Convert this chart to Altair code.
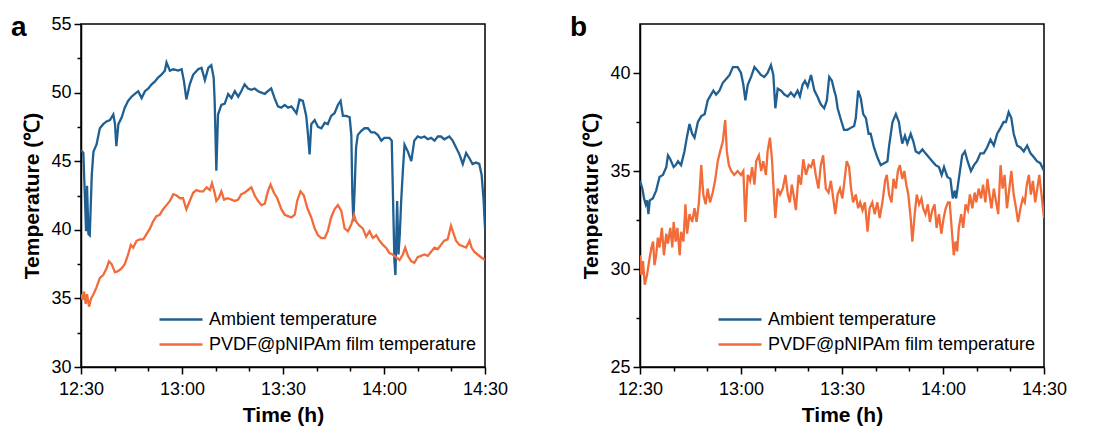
import altair as alt
import pandas as pd

SERIES = ["Ambient temperature", "PVDF@pNIPAm film temperature"]
COLORS = ["#1f5f91", "#f26c3a"]
PANEL_LETTERS = ["a", "b"]
X_TICK_MINUTES = list(range(0, 121, 10))
A_Y_TICKS = [30, 32.5, 35, 37.5, 40, 42.5, 45, 47.5, 50, 52.5, 55]
B_Y_TICKS = [25, 27.5, 30, 32.5, 35, 37.5, 40]
A_Y_DOMAIN = [30, 55]
B_Y_DOMAIN = [25, 42.5]

# (minutes after 12:30, temperature in degC)
AMBIENT_A = [
    (0, 45.8), (0.7, 45.6), (1.2, 42.1), (1.5, 39.9), (1.8, 43.2), (2.2, 39.7), (2.6, 39.6), (3.2, 44.0),
    (3.7, 45.7), (4.6, 46.2), (5.6, 47.4), (6.6, 47.7), (7.6, 47.9), (8.6, 48.0), (9.6, 48.4), (10.1, 47.7),
    (10.5, 46.1), (11.1, 47.7), (12.1, 48.2), (13.0, 48.9), (14.0, 49.4), (15.0, 49.7), (16.0, 49.9),
    (17.0, 50.1), (18.0, 49.6), (19.0, 50.1), (20.0, 50.3), (21.0, 50.6), (21.9, 50.8), (22.9, 51.1),
    (23.9, 51.3), (24.9, 51.6), (25.4, 52.2), (26.4, 51.6), (27.4, 51.7), (28.9, 51.6), (29.9, 51.7),
    (30.6, 50.8), (31.3, 49.5), (32.3, 50.6), (33.3, 51.3), (34.8, 51.7), (35.8, 51.8), (36.8, 50.9),
    (37.8, 51.8), (38.7, 52.0), (39.4, 51.1), (39.7, 49.4), (40.2, 44.3), (40.7, 48.4), (41.7, 49.1),
    (42.7, 49.2), (43.7, 49.9), (44.7, 49.6), (45.7, 50.1), (46.7, 49.7), (47.6, 50.1), (48.6, 50.6),
    (49.6, 50.3), (50.6, 50.2), (51.6, 50.3), (52.6, 50.1), (53.6, 50.0), (54.6, 49.9), (55.5, 50.1),
    (56.5, 50.3), (57.5, 49.6), (58.5, 49.0), (59.5, 48.9), (60.5, 49.1), (61.5, 48.9), (62.5, 49.0),
    (64.0, 48.5), (64.9, 49.5), (65.9, 49.4), (66.9, 48.3), (67.4, 47.0), (67.9, 45.5), (68.4, 47.7),
    (69.4, 48.0), (70.4, 47.5), (71.4, 47.4), (72.4, 47.8), (73.3, 47.7), (74.3, 48.3), (75.3, 48.5),
    (76.3, 49.1), (77.1, 49.4), (77.8, 48.3), (78.8, 48.3), (79.8, 48.2), (80.3, 46.9), (80.6, 42.6),
    (80.9, 40.6), (81.3, 43.1), (81.7, 46.0), (82.2, 46.9), (83.2, 47.2), (84.2, 47.4), (85.2, 47.4),
    (86.2, 47.1), (87.2, 47.1), (88.2, 46.9), (89.2, 46.5), (90.1, 46.7), (91.6, 46.7), (92.3, 46.5),
    (92.7, 42.1), (93.1, 37.7), (93.4, 36.7), (93.9, 42.1), (94.3, 38.2), (94.7, 39.7), (95.1, 42.1),
    (95.6, 44.3), (96.1, 46.2), (97.1, 45.7), (98.1, 45.0), (99.0, 46.5), (100.0, 46.8), (101.0, 46.7),
    (102.0, 46.8), (103.0, 46.6), (104.0, 46.7), (105.0, 46.5), (106.0, 46.8), (106.9, 46.8), (107.9, 46.6),
    (109.4, 46.8), (110.4, 46.5), (111.4, 46.0), (112.4, 45.5), (113.4, 44.8), (114.4, 45.6), (115.4, 45.2),
    (116.3, 44.8), (117.3, 44.9), (118.3, 44.8), (119.0, 44.0), (119.6, 42.1), (120.0, 40.1),
]

FILM_A = [
    (0.0, 35.3), (0.5, 34.9), (0.9, 35.5), (1.4, 34.6), (1.8, 35.3), (2.4, 34.4), (3.0, 35.0), (3.7, 35.3),
    (4.6, 35.8), (5.6, 36.5), (6.6, 36.7), (7.6, 37.2), (8.3, 37.7), (9.1, 37.5), (10.1, 36.9), (11.1, 37.0),
    (12.1, 37.2), (13.0, 37.5), (14.0, 38.2), (14.8, 38.9), (15.5, 38.7), (16.5, 39.2), (17.5, 39.3),
    (18.5, 39.3), (19.5, 39.7), (20.5, 40.1), (21.4, 40.6), (22.4, 41.0), (23.4, 41.1), (24.4, 41.5),
    (25.4, 41.8), (26.4, 42.1), (27.4, 42.6), (28.4, 42.5), (29.4, 42.3), (30.3, 42.3), (31.3, 41.5),
    (32.3, 42.1), (33.3, 42.7), (34.3, 42.9), (35.3, 42.8), (36.3, 42.8), (37.3, 43.1), (38.3, 42.9),
    (38.9, 43.4), (39.7, 42.7), (40.2, 42.1), (40.9, 42.3), (41.7, 42.8), (42.5, 42.2), (43.5, 42.3),
    (44.7, 42.2), (45.7, 42.1), (46.7, 42.2), (47.6, 42.6), (48.6, 42.7), (49.6, 42.9), (50.6, 43.1),
    (51.6, 42.5), (52.6, 42.1), (53.6, 41.8), (54.6, 41.9), (55.5, 42.8), (56.3, 43.3), (57.3, 42.7),
    (58.3, 42.3), (59.5, 41.5), (60.5, 41.1), (61.5, 41.0), (62.5, 40.9), (63.5, 41.1), (64.2, 42.1),
    (65.2, 42.8), (66.2, 42.5), (67.2, 41.6), (68.4, 40.9), (69.4, 40.1), (70.4, 39.6), (71.4, 39.4),
    (72.4, 39.4), (73.3, 39.9), (74.3, 40.9), (75.3, 41.5), (76.3, 41.8), (77.3, 41.4), (78.3, 40.1),
    (79.3, 39.9), (80.3, 40.4), (81.1, 41.1), (81.7, 40.6), (82.7, 40.3), (83.7, 40.1), (84.7, 39.5),
    (85.7, 39.9), (86.7, 39.4), (87.7, 39.6), (88.7, 39.2), (89.7, 38.9), (90.6, 38.7), (91.6, 38.3),
    (92.6, 38.2), (93.6, 38.0), (94.6, 37.8), (95.6, 38.2), (96.3, 38.7), (97.1, 38.1), (98.1, 37.7),
    (99.0, 37.6), (100.0, 38.0), (101.0, 38.1), (102.0, 38.2), (103.0, 38.1), (104.0, 38.4), (105.0, 38.7),
    (106.0, 38.6), (106.9, 38.9), (107.9, 39.2), (108.9, 39.3), (109.9, 40.3), (110.7, 39.7), (111.4, 39.2),
    (112.4, 38.9), (113.4, 38.8), (114.4, 38.7), (115.4, 39.2), (116.0, 38.7), (116.8, 38.4), (117.8, 38.2),
    (118.8, 38.0), (120.0, 37.8),
]

AMBIENT_B = [
    (0, 34.5), (0.7, 34.1), (1.2, 33.6), (1.7, 33.3), (2.1, 33.5), (2.5, 32.8), (2.9, 33.5), (3.8, 33.6),
    (4.8, 34.0), (5.8, 34.7), (6.8, 34.8), (7.8, 35.2), (8.3, 35.8), (9.0, 35.6), (10.0, 35.2), (10.6, 35.3),
    (11.3, 35.5), (12.2, 35.3), (13.2, 36.0), (13.9, 36.7), (14.7, 37.4), (15.5, 36.9), (16.2, 36.7),
    (17.2, 37.5), (18.2, 37.8), (19.2, 37.9), (20.1, 38.6), (21.1, 38.9), (21.8, 39.1), (22.6, 38.9),
    (23.6, 39.1), (24.6, 39.5), (25.6, 39.7), (26.6, 39.9), (27.6, 40.3), (28.3, 40.3), (29.0, 40.3),
    (30.0, 40.0), (30.7, 39.4), (31.3, 38.6), (32.0, 39.4), (33.0, 39.8), (34.0, 40.3), (35.0, 40.1),
    (35.9, 39.9), (36.9, 39.8), (37.9, 40.0), (38.9, 40.4), (39.6, 39.9), (40.2, 38.2), (40.9, 39.2),
    (41.9, 39.1), (42.9, 38.9), (43.9, 38.8), (44.8, 39.0), (45.8, 38.8), (46.8, 39.1), (47.5, 38.8),
    (48.3, 39.4), (49.0, 39.6), (49.8, 39.3), (50.8, 39.9), (51.8, 39.1), (52.7, 38.8), (53.7, 38.4),
    (54.7, 38.2), (55.5, 38.6), (56.2, 39.8), (57.0, 39.6), (57.7, 39.1), (58.2, 38.8), (58.7, 38.2),
    (59.7, 37.6), (60.6, 37.1), (61.6, 37.1), (62.6, 37.2), (63.6, 37.3), (64.1, 37.7), (64.8, 39.1),
    (65.6, 38.7), (66.3, 37.9), (67.1, 37.7), (67.9, 36.9), (68.5, 36.9), (69.5, 36.2), (70.5, 35.7),
    (71.5, 35.3), (72.5, 35.4), (73.5, 35.5), (74.0, 36.3), (75.0, 37.5), (76.0, 37.9), (76.9, 37.5),
    (77.4, 36.9), (77.9, 36.4), (78.7, 36.8), (79.4, 36.4), (80.4, 36.9), (81.2, 36.5), (81.9, 36.0),
    (82.9, 35.9), (83.9, 36.1), (84.8, 35.9), (85.8, 35.7), (86.8, 35.5), (87.8, 35.3), (88.8, 35.2),
    (89.6, 34.8), (90.3, 35.2), (91.3, 34.7), (92.2, 34.6), (92.9, 33.6), (93.5, 34.0), (93.9, 33.6),
    (94.7, 34.6), (95.7, 35.8), (96.5, 36.0), (97.3, 35.5), (98.3, 35.0), (99.2, 35.3), (100.1, 35.5),
    (101.1, 35.9), (102.1, 35.9), (103.1, 36.2), (104.1, 36.6), (105.1, 36.3), (106.1, 36.9), (107.1, 37.2),
    (108.0, 37.5), (108.7, 37.5), (109.5, 38.0), (110.3, 37.7), (111.0, 36.9), (112.0, 36.3), (113.0, 36.2),
    (114.0, 36.0), (115.0, 36.3), (116.0, 35.9), (117.0, 35.7), (117.9, 35.5), (118.9, 35.4), (120.0, 35.0),
]

FILM_B = [
    (0.0, 30.7), (0.4, 29.7), (0.9, 30.4), (1.4, 29.2), (2.1, 29.7), (2.7, 30.4), (3.4, 31.1), (3.9, 31.4),
    (4.3, 30.2), (4.8, 30.7), (5.3, 31.6), (5.8, 31.1), (6.5, 32.1), (7.1, 30.7), (7.8, 31.8), (8.3, 31.3),
    (9.0, 32.1), (9.6, 31.1), (10.0, 32.4), (10.6, 31.4), (11.1, 32.1), (11.8, 30.7), (12.2, 31.9),
    (12.9, 31.4), (13.5, 33.3), (14.0, 31.8), (14.7, 32.8), (15.5, 32.4), (16.2, 33.1), (16.8, 32.4),
    (17.5, 33.4), (18.2, 35.3), (18.8, 33.8), (19.5, 33.3), (20.1, 34.1), (20.8, 33.4), (21.6, 33.9),
    (22.3, 34.5), (23.1, 35.5), (23.8, 36.0), (24.6, 36.5), (25.3, 37.6), (25.8, 36.0), (26.4, 35.3),
    (27.1, 35.0), (28.0, 34.8), (29.0, 35.0), (30.0, 34.8), (30.7, 35.0), (31.3, 32.4), (32.0, 34.8),
    (32.7, 34.5), (33.3, 35.2), (34.0, 34.3), (34.5, 35.5), (35.3, 35.8), (36.0, 35.0), (36.6, 35.5),
    (37.4, 34.8), (37.9, 36.0), (38.6, 36.7), (39.2, 35.6), (39.9, 33.4), (40.2, 32.6), (40.9, 34.1),
    (41.6, 33.8), (42.4, 34.1), (43.2, 34.8), (43.9, 33.8), (44.5, 33.4), (45.1, 34.3), (45.8, 33.6),
    (46.3, 33.0), (47.1, 34.8), (47.8, 34.3), (48.5, 35.6), (49.3, 34.8), (50.1, 35.3), (50.8, 35.2),
    (51.5, 35.6), (52.2, 34.8), (53.0, 34.1), (53.7, 35.3), (54.4, 35.8), (55.2, 34.1), (56.0, 33.9),
    (56.7, 34.5), (57.4, 33.6), (58.0, 32.8), (58.7, 33.8), (59.4, 34.1), (60.1, 33.6), (60.8, 34.6),
    (61.4, 35.5), (62.1, 35.2), (62.7, 34.1), (63.3, 33.4), (64.1, 33.8), (64.8, 33.1), (65.4, 33.4),
    (66.1, 33.0), (66.8, 33.4), (67.6, 31.9), (68.2, 33.1), (69.0, 33.4), (69.7, 32.8), (70.5, 33.4),
    (71.2, 32.6), (72.0, 33.4), (72.8, 34.5), (73.3, 34.8), (74.0, 33.8), (74.7, 33.4), (75.3, 34.6),
    (76.0, 34.1), (76.6, 35.0), (77.2, 35.3), (77.9, 34.6), (78.5, 35.0), (79.1, 34.3), (79.7, 33.8),
    (80.4, 32.6), (80.9, 31.4), (81.6, 32.8), (82.2, 33.8), (82.9, 33.3), (83.6, 33.6), (84.1, 33.1),
    (84.8, 32.8), (85.5, 33.3), (86.1, 32.4), (86.8, 33.0), (87.5, 33.3), (88.1, 32.1), (88.8, 32.8),
    (89.5, 31.8), (90.2, 32.6), (90.8, 33.1), (91.5, 33.4), (92.0, 33.4), (92.7, 31.8), (93.2, 30.7),
    (93.7, 31.4), (94.2, 30.9), (94.7, 32.1), (95.4, 32.8), (96.0, 32.1), (96.7, 33.3), (97.4, 33.0),
    (98.0, 33.8), (98.7, 33.1), (99.4, 33.9), (99.9, 33.4), (100.6, 34.1), (101.3, 33.6), (101.9, 34.3),
    (102.6, 33.4), (103.2, 34.6), (103.8, 33.8), (104.4, 33.1), (105.1, 34.1), (105.8, 33.4), (106.4, 32.8),
    (107.1, 35.3), (107.7, 34.1), (108.3, 34.8), (109.0, 33.1), (109.7, 34.1), (110.3, 35.0), (111.0, 33.8),
    (111.7, 33.1), (112.3, 32.4), (113.0, 33.1), (113.7, 33.6), (114.3, 33.4), (114.9, 34.3), (115.5, 34.8),
    (116.1, 33.8), (116.7, 34.5), (117.4, 33.4), (118.0, 34.1), (118.6, 34.8), (119.2, 33.9), (120.0, 32.6),
]

START = pd.Timestamp("2024-01-01 12:30:00")
FONT = "Liberation Sans"


def make_frame(ambient, film):
    rows = []
    for name, series in zip(SERIES, [ambient, film]):
        for minute, temp in series:
            rows.append({"t": START + pd.Timedelta(minutes=minute), "temp": temp, "series": name})
    return pd.DataFrame(rows)


def dt(minutes_after):
    ts = START + pd.Timedelta(minutes=minutes_after)
    return alt.DateTime(year=ts.year, month=ts.month, date=ts.day, hours=ts.hour, minutes=ts.minute)


def panel(df, letter, y_domain, y_ticks):
    x = alt.X(
        "t:T",
        scale=alt.Scale(domain=[dt(0), dt(120)], nice=False),
        axis=alt.Axis(
            title="Time (h)",
            values=[dt(m) for m in X_TICK_MINUTES],
            labelExpr="minutes(datum.value) % 30 === 0 ? timeFormat(datum.value, '%H:%M') : ''",
            tickSize={"condition": {"test": "minutes(datum.value) % 30 === 0", "value": 7}, "value": 4},
            labelFlush=False,
            labelOverlap=False,
            labelPadding=6,
            titlePadding=6,
        ),
    )
    y = alt.Y(
        "temp:Q",
        scale=alt.Scale(domain=y_domain, nice=False, zero=False),
        axis=alt.Axis(
            title="Temperature (℃)",
            values=y_ticks,
            labelExpr="datum.value % 5 === 0 ? datum.label : ''",
            tickSize={"condition": {"test": "datum.value % 5 === 0", "value": 7}, "value": 4},
            labelOverlap=False,
            labelPadding=3,
            titlePadding=8,
        ),
    )
    lines = alt.Chart(df).mark_line(strokeWidth=2.3, clip=True).encode(
        x=x,
        y=y,
        color=alt.Color(
            "series:N",
            scale=alt.Scale(domain=SERIES, range=COLORS),
            sort=SERIES,
            legend=alt.Legend(
                title=None,
                orient="none",
                legendX=77,
                legendY=283,
                symbolType="stroke",
                symbolSize=1849,
                symbolStrokeWidth=2.3,
                labelFont=FONT,
                labelFontSize=18,
                labelColor="black",
                labelOffset=5,
                clipHeight=25,
                rowPadding=0,
                padding=0,
                labelLimit=400,
            ),
        ),
    )
    tag = alt.Chart(pd.DataFrame({"label": [letter]})).mark_text(
        font=FONT, fontSize=28, fontWeight="bold", align="left", baseline="alphabetic", color="black"
    ).encode(x=alt.value(-70), y=alt.value(12), text="label:N")
    return alt.layer(lines, tag).properties(width=404, height=343)


pa = panel(make_frame(AMBIENT_A, FILM_A), PANEL_LETTERS[0], A_Y_DOMAIN, A_Y_TICKS)
pb = panel(make_frame(AMBIENT_B, FILM_B), PANEL_LETTERS[1], B_Y_DOMAIN, B_Y_TICKS)

chart = (
    alt.hconcat(pa, pb, spacing=60)
    .resolve_scale(x="independent", y="independent", color="independent")
    .resolve_legend(color="independent")
    .properties(padding={"left": 2, "top": 5, "right": 5, "bottom": 5})
    .configure_view(stroke="black", strokeWidth=1.5)
    .configure_axis(
        grid=False,
        domainColor="black",
        domainWidth=1.5,
        tickColor="black",
        tickWidth=1.5,
        labelFont=FONT,
        labelFontSize=18,
        labelColor="black",
        titleFont=FONT,
        titleFontSize=21,
        titleFontWeight="bold",
        titleColor="black",
    )
)

chart.save("out.html", embed_options={"renderer": "svg", "actions": False})
